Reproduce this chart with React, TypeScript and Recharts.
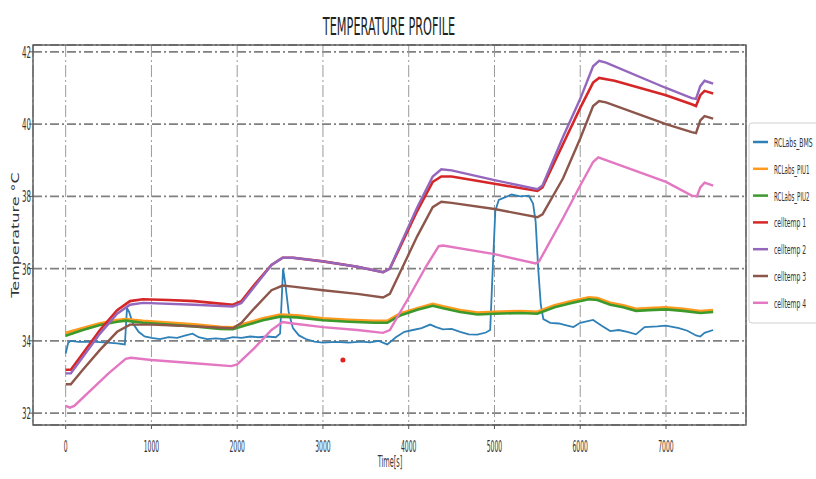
import React from 'react';
import { LineChart, Line, XAxis, YAxis, CartesianGrid, ReferenceDot } from 'recharts';

const xTicks = [0, 1000, 2000, 3000, 4000, 5000, 6000, 7000];
const yTicks = [32, 34, 36, 38, 40, 42];
const xDomain: [number, number] = [-381, 7933];
const yDomain: [number, number] = [31.67, 42.19];

const chartTitle = 'TEMPERATURE PROFILE';
const xLabel = 'Time[s]';
const yLabel = 'Temperature °C';
const seriesNames = ['RCLabs_BMS', 'RCLabs_PIU1', 'RCLabs_PIU2', 'celltemp 1', 'celltemp 2', 'celltemp 3', 'celltemp 4'];
const seriesColors = ['#2f80b6', '#ff9a1f', '#3c9a2c', '#d62728', '#9467bd', '#8c564b', '#e377c2'];

const bmsTemp: [number, number][] = [
  [0, 33.65], [30, 33.95], [60, 34.0], [150, 33.97], [300, 33.98], [450, 33.96], [600, 33.93], [690, 33.9],
  [700, 34.3], [715, 34.9], [740, 34.8], [780, 34.5], [850, 34.25], [920, 34.12], [1000, 34.08], [1100, 34.05],
  [1200, 34.1], [1300, 34.08], [1400, 34.15], [1480, 34.2], [1550, 34.1], [1650, 34.05], [1750, 34.07], [1850, 34.05],
  [1950, 34.1], [2050, 34.08], [2150, 34.12], [2250, 34.1], [2350, 34.12], [2450, 34.1], [2500, 34.2], [2520, 35.2],
  [2535, 36.0], [2560, 35.6], [2600, 34.8], [2650, 34.35], [2720, 34.15], [2800, 34.05], [2900, 33.98], [3000, 33.95],
  [3150, 33.97], [3300, 33.95], [3450, 33.98], [3550, 33.96], [3650, 34.0], [3750, 33.9], [3850, 34.1], [3950, 34.25],
  [4050, 34.3], [4150, 34.35], [4250, 34.45], [4320, 34.38], [4400, 34.32], [4500, 34.33], [4600, 34.25], [4700, 34.18],
  [4800, 34.17], [4900, 34.23], [4950, 34.3], [4980, 36.0], [5010, 37.6], [5050, 37.9], [5100, 37.95], [5200, 38.05],
  [5300, 38.0], [5400, 38.02], [5450, 37.8], [5480, 37.3], [5510, 36.0], [5540, 35.0], [5570, 34.6], [5650, 34.5],
  [5750, 34.48], [5850, 34.42], [5920, 34.38], [6000, 34.5], [6150, 34.58], [6250, 34.42], [6350, 34.27], [6450, 34.3],
  [6550, 34.25], [6650, 34.18], [6750, 34.38], [6900, 34.4], [7000, 34.42], [7150, 34.35], [7250, 34.28], [7350, 34.15],
  [7400, 34.12], [7450, 34.22], [7550, 34.3],
];

const piuTemp1: [number, number][] = [
  [0, 34.22], [200, 34.35], [400, 34.48], [600, 34.57], [700, 34.6], [900, 34.55], [1200, 34.5], [1500, 34.45],
  [1800, 34.38], [1950, 34.37], [2100, 34.48], [2300, 34.62], [2500, 34.72], [2700, 34.7], [3000, 34.62], [3300, 34.58],
  [3600, 34.55], [3750, 34.55], [3900, 34.75], [4100, 34.9], [4280, 35.02], [4400, 34.95], [4600, 34.85], [4800, 34.78],
  [5000, 34.8], [5300, 34.82], [5500, 34.8], [5700, 34.98], [5900, 35.1], [6100, 35.2], [6200, 35.18], [6350, 35.05],
  [6500, 34.98], [6650, 34.88], [6800, 34.9], [7000, 34.92], [7200, 34.88], [7400, 34.82], [7550, 34.85],
];

const piuTemp2: [number, number][] = [
  [0, 34.14], [200, 34.3], [400, 34.44], [600, 34.53], [700, 34.56], [900, 34.5], [1200, 34.45], [1500, 34.4],
  [1800, 34.33], [1950, 34.32], [2100, 34.43], [2300, 34.57], [2500, 34.67], [2700, 34.65], [3000, 34.57], [3300, 34.53],
  [3600, 34.5], [3750, 34.5], [3900, 34.7], [4100, 34.86], [4280, 34.97], [4400, 34.9], [4600, 34.8], [4800, 34.73],
  [5000, 34.75], [5300, 34.77], [5500, 34.75], [5700, 34.93], [5900, 35.05], [6100, 35.15], [6200, 35.13], [6350, 35.0],
  [6500, 34.93], [6650, 34.83], [6800, 34.85], [7000, 34.87], [7200, 34.83], [7400, 34.77], [7550, 34.8],
];

const cellTemp1: [number, number][] = [
  [0, 33.2], [60, 33.2], [200, 33.65], [400, 34.3], [600, 34.85], [750, 35.1], [900, 35.15], [1200, 35.13],
  [1500, 35.1], [1800, 35.03], [1950, 35.0], [2050, 35.1], [2200, 35.55], [2400, 36.1], [2530, 36.3], [2650, 36.3],
  [3000, 36.2], [3400, 36.05], [3700, 35.9], [3780, 36.0], [3900, 36.6], [4100, 37.6], [4280, 38.4], [4380, 38.55],
  [4500, 38.55], [5000, 38.35], [5500, 38.15], [5560, 38.25], [5800, 39.45], [6000, 40.45], [6150, 41.15], [6220, 41.28],
  [6400, 41.2], [7000, 40.8], [7300, 40.55], [7350, 40.5], [7400, 40.8], [7450, 40.92], [7550, 40.85],
];

const cellTemp2: [number, number][] = [
  [0, 33.1], [60, 33.1], [200, 33.55], [400, 34.2], [600, 34.75], [750, 35.0], [900, 35.05], [1500, 35.0],
  [1950, 34.95], [2050, 35.05], [2200, 35.5], [2400, 36.1], [2530, 36.3], [2650, 36.3], [3000, 36.2], [3400, 36.05],
  [3700, 35.9], [3780, 36.0], [3900, 36.65], [4100, 37.7], [4280, 38.55], [4380, 38.75], [4500, 38.72], [5000, 38.45],
  [5500, 38.2], [5560, 38.3], [5800, 39.65], [6000, 40.7], [6150, 41.6], [6220, 41.75], [6300, 41.7], [7000, 41.0],
  [7300, 40.72], [7350, 40.7], [7400, 41.05], [7450, 41.2], [7550, 41.12],
];

const cellTemp3: [number, number][] = [
  [0, 32.8], [60, 32.8], [200, 33.2], [400, 33.75], [600, 34.25], [750, 34.45], [1000, 34.45], [1500, 34.4],
  [1950, 34.35], [2050, 34.5], [2200, 34.9], [2400, 35.4], [2530, 35.53], [2650, 35.5], [3000, 35.4], [3400, 35.3],
  [3700, 35.2], [3780, 35.3], [3900, 35.9], [4100, 36.9], [4280, 37.7], [4380, 37.85], [4500, 37.82], [5000, 37.65],
  [5500, 37.42], [5560, 37.5], [5800, 38.5], [6000, 39.6], [6150, 40.5], [6220, 40.64], [6300, 40.6], [7000, 40.0],
  [7300, 39.78], [7350, 39.75], [7400, 40.1], [7450, 40.22], [7550, 40.15],
];

const cellTemp4: [number, number][] = [
  [0, 32.2], [50, 32.15], [100, 32.2], [300, 32.65], [500, 33.1], [700, 33.5], [760, 33.53], [1000, 33.47],
  [1500, 33.38], [1930, 33.3], [2000, 33.35], [2200, 33.8], [2400, 34.3], [2530, 34.52], [2650, 34.48], [3000, 34.38],
  [3400, 34.3], [3700, 34.22], [3780, 34.3], [4000, 35.2], [4200, 36.05], [4350, 36.62], [4400, 36.64], [5000, 36.4],
  [5480, 36.14], [5520, 36.2], [5800, 37.4], [6000, 38.3], [6150, 38.95], [6210, 39.08], [6300, 39.0], [7000, 38.4],
  [7300, 38.02], [7360, 38.0], [7400, 38.25], [7450, 38.38], [7550, 38.3],
];

const strayPoint = { t: 3233, v: 33.47 };

const allSeries = [bmsTemp, piuTemp1, piuTemp2, cellTemp1, cellTemp2, cellTemp3, cellTemp4];
const seriesWidths = [1.8, 3, 2.6, 2.6, 2.4, 2.4, 2.4];

const toRows = (pts: [number, number][]) => pts.map(([t, v]) => ({ t, v }));

const textColor = '#333';

const SText = (p: { x: number; y: number; sx: number; sy?: number; rotate?: number; anchor?: string; fontSize: number; fill?: string; children: any }) => (
  <g transform={`translate(${p.x},${p.y}) rotate(${p.rotate || 0}) scale(${p.sx},${p.sy ?? 1})`}>
    <text x={0} y={0} textAnchor={(p.anchor || 'start') as any} fontSize={p.fontSize} fill={p.fill || textColor}
      fontFamily="DejaVu Sans">{p.children}</text>
  </g>
);

const XTick = (props: any) => {
  const { x, y, payload } = props;
  return <SText x={x} y={y + 21} sx={0.38} anchor="middle" fontSize={16}>{String(payload.value)}</SText>;
};

const YTick = (props: any) => {
  const { x, y, payload } = props;
  return <SText x={x + 4} y={y + 6} sx={0.44} anchor="end" fontSize={16}>{String(payload.value)}</SText>;
};

export default function App() {
  const W = 816, H = 479;
  const left = 33, top = 45, right = 746, bottom = 425;
  return (
    <div style={{ position: 'absolute', left: 0, top: 0, width: W, height: H, overflow: 'hidden', background: '#fff' }}>
      <LineChart width={W} height={H} margin={{ top: top, right: W - right, bottom: 0, left: 0 }}>
        <CartesianGrid horizontal={true} vertical={false} stroke="#808080" strokeWidth={1.6} strokeDasharray="9 3 2 3" />
        <CartesianGrid horizontal={false} vertical={true} stroke="#9a9a9a" strokeWidth={1} strokeDasharray="12 3 2 3" />
        <XAxis type="number" dataKey="t" domain={xDomain} ticks={xTicks} allowDataOverflow
          height={H - bottom} axisLine={false} tickLine={{ stroke: '#555' }} tickSize={4} tick={<XTick />} interval={0} />
        <YAxis type="number" domain={yDomain} ticks={yTicks} allowDataOverflow
          width={left} axisLine={false} tickLine={{ stroke: '#555' }} tickSize={4} tick={<YTick />} interval={0} />
        {allSeries.map((pts, i) => (
          <Line key={seriesNames[i]} data={toRows(pts)} dataKey="v" name={seriesNames[i]} type="linear"
            stroke={seriesColors[i]} strokeWidth={seriesWidths[i]} dot={false} isAnimationActive={false} />
        ))}
        <ReferenceDot x={strayPoint.t} y={strayPoint.v} r={2.5} fill="#e32020" stroke="none" />
      </LineChart>
      <svg width={W} height={H} style={{ position: 'absolute', left: 0, top: 0, pointerEvents: 'none' }}>
        <rect x={left} y={top} width={right - left} height={bottom - top} fill="none" stroke="#555" strokeWidth={1.4} />
        <SText x={389} y={35} sx={0.47} anchor="middle" fontSize={24} fill="#222">{chartTitle}</SText>
        <SText x={390} y={467} sx={0.44} anchor="middle" fontSize={15}>{xLabel}</SText>
        <SText x={19} y={235} sx={1} sy={0.62} rotate={-90} anchor="middle" fontSize={16}>{yLabel}</SText>
        <rect x={749} y={123} width={120} height={200} rx={3} fill="#fff" fillOpacity={0.85} stroke="#d0d0d0" strokeWidth={1} />
        {seriesNames.map((n, i) => {
          const yy = 142 + i * 26.8;
          const sx = Math.min(0.52, 37 / (n.length * 7.9));
          return (
            <g key={n}>
              <line x1={753} x2={768} y1={yy} y2={yy} stroke={seriesColors[i]} strokeWidth={2.5} />
              <SText x={774} y={yy + 5} sx={sx} fontSize={13}>{n}</SText>
            </g>
          );
        })}
      </svg>
    </div>
  );
}
